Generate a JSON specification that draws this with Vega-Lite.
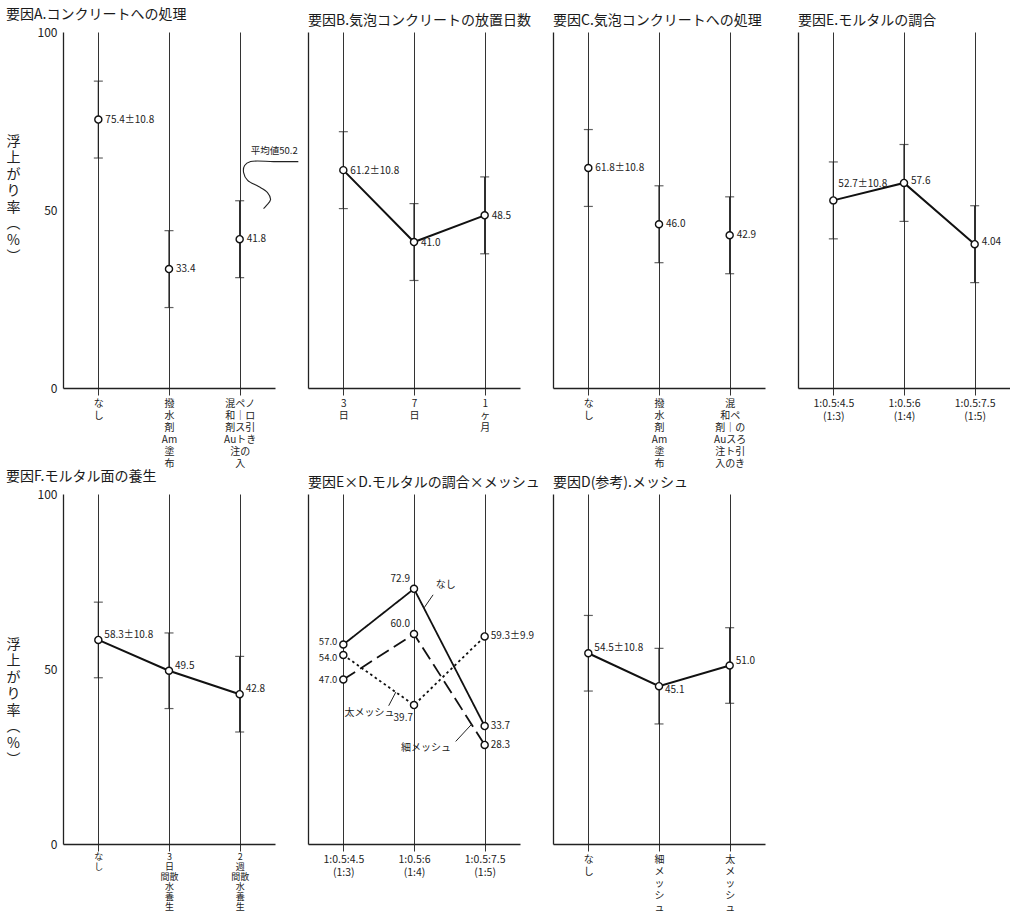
{
  "$schema": "https://vega.github.io/schema/vega-lite/v6.json",
  "background": "white",
  "padding": {"left": 6, "top": 8, "right": 0, "bottom": 0},
  "config": {
    "view": {"stroke": null},
    "font": "Noto Sans CJK JP",
    "title": {"anchor": "start", "fontSize": 14, "fontWeight": "normal", "color": "#1a1a1a", "offset": 4},
    "axis": {"domainColor": "#222", "domainWidth": 1.3, "labelColor": "#222", "titleColor": "#222"},
    "axisX": {"grid": true, "gridColor": "#333", "gridWidth": 1, "ticks": true, "tickSize": 7, "tickColor": "#333", "tickWidth": 1, "labelAngle": 0, "labelAlign": "center", "labelBaseline": "top", "labelFontSize": 10, "labelLineHeight": 12, "labelPadding": 3, "labelOverlap": false, "labelFlush": false},
    "axisY": {"grid": false, "ticks": false, "labelFontSize": 12, "labelPadding": 6}
  },
  "datasets": {
    "A": [{"i": 0, "v": 75.4, "e": 10.8, "t": "75.4±10.8"}, {"i": 1, "v": 33.4, "e": 10.8, "t": "33.4"}, {"i": 2, "v": 41.8, "e": 10.8, "t": "41.8"}],
    "B": [{"i": 0, "v": 61.2, "e": 10.8, "t": "61.2±10.8"}, {"i": 1, "v": 41.0, "e": 10.8, "t": "41.0"}, {"i": 2, "v": 48.5, "e": 10.8, "t": "48.5"}],
    "C": [{"i": 0, "v": 61.8, "e": 10.8, "t": "61.8±10.8"}, {"i": 1, "v": 46.0, "e": 10.8, "t": "46.0"}, {"i": 2, "v": 42.9, "e": 10.8, "t": "42.9"}],
    "E": [{"i": 0, "v": 52.7, "e": 10.8, "t": "52.7±10.8"}, {"i": 1, "v": 57.6, "e": 10.8, "t": "57.6"}, {"i": 2, "v": 40.4, "e": 10.8, "t": "4.04"}],
    "F": [{"i": 0, "v": 58.3, "e": 10.8, "t": "58.3±10.8"}, {"i": 1, "v": 49.5, "e": 10.8, "t": "49.5"}, {"i": 2, "v": 42.8, "e": 10.8, "t": "42.8"}],
    "D": [{"i": 0, "v": 54.5, "e": 10.8, "t": "54.5±10.8"}, {"i": 1, "v": 45.1, "e": 10.8, "t": "45.1"}, {"i": 2, "v": 51.0, "e": 10.8, "t": "51.0"}],
    "X": [
      {"s": "なし", "i": 0, "v": 57.0, "t": "57.0"}, {"s": "なし", "i": 1, "v": 72.9, "t": "72.9"}, {"s": "なし", "i": 2, "v": 33.7, "t": "33.7"},
      {"s": "細メッシュ", "i": 0, "v": 47.0, "t": "47.0"}, {"s": "細メッシュ", "i": 1, "v": 60.0, "t": "60.0"}, {"s": "細メッシュ", "i": 2, "v": 28.3, "t": "28.3"},
      {"s": "太メッシュ", "i": 0, "v": 54.0, "t": "54.0"}, {"s": "太メッシュ", "i": 1, "v": 39.7, "t": "39.7"}, {"s": "太メッシュ", "i": 2, "v": 59.3, "t": "59.3±9.9"}
    ],
    "curveA": [
      {"o": 1, "x": 2.83, "y": 63.6}, {"o": 2, "x": 2.48, "y": 63.6}, {"o": 3, "x": 2.155, "y": 63.6}, {"o": 4, "x": 2.07, "y": 62.5},
      {"o": 5, "x": 2.056, "y": 60.5}, {"o": 6, "x": 2.113, "y": 58.3}, {"o": 7, "x": 2.268, "y": 56.6}, {"o": 8, "x": 2.394, "y": 54.9},
      {"o": 9, "x": 2.437, "y": 52.9}, {"o": 10, "x": 2.38, "y": 51.3}, {"o": 11, "x": 2.338, "y": 50.4}
    ],
    "noteA": [{"x": 2.49, "y": 66.6, "t": "平均値50.2"}],
    "leadX": [
      {"x": 1.27, "y": 71.2, "x2": 1.14, "y2": 67.4},
      {"x": 0.642, "y": 39.5, "x2": 0.743, "y2": 43.4},
      {"x": 1.59, "y": 29.3, "x2": 1.815, "y2": 34.2}
    ],
    "noteX": [{"x": 1.45, "y": 74.1, "t": "なし"}, {"x": 0.37, "y": 37.5, "t": "太メッシュ"}, {"x": 1.17, "y": 27.5, "t": "細メッシュ"}]
  },
  "columns": 4,
  "spacing": {"row": 106, "column": 33},
  "bounds": "flush",
  "concat": [
    {
      "width": 212, "height": 356,
      "title": "要因A.コンクリートへの処理",
      "data": {"name": "A"},
      "encoding": {
        "x": {"field": "i", "type": "quantitative", "scale": {"domain": [-0.5, 2.5], "nice": false, "zero": false}, "axis": {"title": null, "values": [0, 1, 2], "labelExpr": "[['な','し'],['撥','水','剤','Am','塗','布'],['混ペノ','和｜ロ','剤ス引','Auトき','注の　','入　　']][datum.value]"}},
        "y": {"field": "v", "type": "quantitative", "scale": {"domain": [0, 100], "nice": false}, "axis": {"values": [0, 50, 100], "title": ["浮", "上", "が", "り", "率", "︵", "%", "︶"], "titleAngle": 0, "titleFontSize": 14, "titleLineHeight": 16.5, "titleFontWeight": "normal", "titleAlign": "center", "titleBaseline": "middle", "titleX": -50, "titleY": 109}}
      },
      "layer": [
        {"transform": [{"aggregate": [{"op": "count", "as": "n"}]}], "mark": {"type": "rule", "color": "#222", "strokeWidth": 1.3}, "encoding": {"x": {"datum": -0.5}, "x2": {"datum": 2.5}, "y": {"datum": 100}}},
        {"transform": [{"aggregate": [{"op": "count", "as": "n"}]}], "mark": {"type": "rule", "color": "#666", "strokeWidth": 1.6, "strokeDash": [6, 4]}, "encoding": {"x": {"datum": -0.5}, "x2": {"datum": 2.5}, "y": {"datum": 50.2}}},
        {"mark": {"type": "errorbar", "ticks": {"size": 9, "color": "#222"}, "color": "#222", "thickness": 1.2}, "encoding": {"yError": {"field": "e"}}},
        {"mark": {"type": "point", "shape": "circle", "filled": true, "fill": "white", "stroke": "#111", "strokeWidth": 1.4, "size": 50, "opacity": 1}},
        {"mark": {"type": "text", "align": "left", "baseline": "middle", "dx": 7, "fontSize": 10, "color": "#222"}, "encoding": {"text": {"field": "t"}}},
        {"data": {"name": "curveA"}, "mark": {"type": "line", "interpolate": "catmull-rom", "color": "#222", "strokeWidth": 1.1}, "encoding": {"x": {"field": "x", "type": "quantitative"}, "y": {"field": "y", "type": "quantitative"}, "order": {"field": "o"}}},
        {"data": {"name": "noteA"}, "mark": {"type": "text", "fontSize": 9.5, "align": "center", "baseline": "middle", "color": "#222"}, "encoding": {"x": {"field": "x", "type": "quantitative"}, "y": {"field": "y", "type": "quantitative"}, "text": {"field": "t"}}}
      ]
    },
    {
      "width": 212, "height": 356,
      "title": "要因B.気泡コンクリートの放置日数",
      "data": {"name": "B"},
      "encoding": {
        "x": {"field": "i", "type": "quantitative", "scale": {"domain": [-0.5, 2.5], "nice": false, "zero": false}, "axis": {"title": null, "values": [0, 1, 2], "labelExpr": "[['3','日'],['7','日'],['1','ヶ','月']][datum.value]"}},
        "y": {"field": "v", "type": "quantitative", "scale": {"domain": [0, 100], "nice": false}, "axis": {"values": [0, 50, 100], "labels": false, "title": null}}
      },
      "layer": [
        {"transform": [{"aggregate": [{"op": "count", "as": "n"}]}], "mark": {"type": "rule", "color": "#222", "strokeWidth": 1.3}, "encoding": {"x": {"datum": -0.5}, "x2": {"datum": 2.5}, "y": {"datum": 100}}},
        {"transform": [{"aggregate": [{"op": "count", "as": "n"}]}], "mark": {"type": "rule", "color": "#333", "strokeWidth": 1}, "encoding": {"x": {"datum": -0.5}, "x2": {"datum": 2.5}, "y": {"datum": 50}}},
        {"mark": {"type": "errorbar", "ticks": {"size": 9, "color": "#222"}, "color": "#222", "thickness": 1.2}, "encoding": {"yError": {"field": "e"}}},
        {"mark": {"type": "line", "color": "#111", "strokeWidth": 2}},
        {"mark": {"type": "point", "shape": "circle", "filled": true, "fill": "white", "stroke": "#111", "strokeWidth": 1.4, "size": 50, "opacity": 1}},
        {"mark": {"type": "text", "align": "left", "baseline": "middle", "dx": 7, "dy": 1, "fontSize": 10, "color": "#222"}, "encoding": {"text": {"field": "t"}}}
      ]
    },
    {
      "width": 212, "height": 356,
      "title": "要因C.気泡コンクリートへの処理",
      "data": {"name": "C"},
      "encoding": {
        "x": {"field": "i", "type": "quantitative", "scale": {"domain": [-0.5, 2.5], "nice": false, "zero": false}, "axis": {"title": null, "values": [0, 1, 2], "labelExpr": "[['な','し'],['撥','水','剤','Am','塗','布'],['混　　','和ペ　','剤｜の','Auスろ','注ト引','入のき']][datum.value]"}},
        "y": {"field": "v", "type": "quantitative", "scale": {"domain": [0, 100], "nice": false}, "axis": {"values": [0, 50, 100], "labels": false, "title": null}}
      },
      "layer": [
        {"transform": [{"aggregate": [{"op": "count", "as": "n"}]}], "mark": {"type": "rule", "color": "#222", "strokeWidth": 1.3}, "encoding": {"x": {"datum": -0.5}, "x2": {"datum": 2.5}, "y": {"datum": 100}}},
        {"transform": [{"aggregate": [{"op": "count", "as": "n"}]}], "mark": {"type": "rule", "color": "#333", "strokeWidth": 1}, "encoding": {"x": {"datum": -0.5}, "x2": {"datum": 2.5}, "y": {"datum": 50}}},
        {"mark": {"type": "errorbar", "ticks": {"size": 9, "color": "#222"}, "color": "#222", "thickness": 1.2}, "encoding": {"yError": {"field": "e"}}},
        {"mark": {"type": "point", "shape": "circle", "filled": true, "fill": "white", "stroke": "#111", "strokeWidth": 1.4, "size": 50, "opacity": 1}},
        {"mark": {"type": "text", "align": "left", "baseline": "middle", "dx": 7, "fontSize": 10, "color": "#222"}, "encoding": {"text": {"field": "t"}}}
      ]
    },
    {
      "width": 212, "height": 356,
      "title": "要因E.モルタルの調合",
      "data": {"name": "E"},
      "encoding": {
        "x": {"field": "i", "type": "quantitative", "scale": {"domain": [-0.5, 2.5], "nice": false, "zero": false}, "axis": {"title": null, "values": [0, 1, 2], "labelFontSize": 10.5, "labelLineHeight": 13, "labelExpr": "[['1:0.5:4.5','(1:3)'],['1:0.5:6','(1:4)'],['1:0.5:7.5','(1:5)']][datum.value]"}},
        "y": {"field": "v", "type": "quantitative", "scale": {"domain": [0, 100], "nice": false}, "axis": {"values": [0, 50, 100], "labels": false, "title": null}}
      },
      "layer": [
        {"transform": [{"aggregate": [{"op": "count", "as": "n"}]}], "mark": {"type": "rule", "color": "#222", "strokeWidth": 1.3}, "encoding": {"x": {"datum": -0.5}, "x2": {"datum": 2.5}, "y": {"datum": 100}}},
        {"transform": [{"aggregate": [{"op": "count", "as": "n"}]}], "mark": {"type": "rule", "color": "#333", "strokeWidth": 1}, "encoding": {"x": {"datum": -0.5}, "x2": {"datum": 2.5}, "y": {"datum": 50}}},
        {"mark": {"type": "errorbar", "ticks": {"size": 9, "color": "#222"}, "color": "#222", "thickness": 1.2}, "encoding": {"yError": {"field": "e"}}},
        {"mark": {"type": "line", "color": "#111", "strokeWidth": 2}},
        {"mark": {"type": "point", "shape": "circle", "filled": true, "fill": "white", "stroke": "#111", "strokeWidth": 1.4, "size": 50, "opacity": 1}},
        {"transform": [{"filter": "datum.i === 0"}], "mark": {"type": "text", "align": "left", "baseline": "middle", "dx": 5, "dy": -16, "fontSize": 10, "color": "#222"}, "encoding": {"text": {"field": "t"}}},
        {"transform": [{"filter": "datum.i > 0"}], "mark": {"type": "text", "align": "left", "baseline": "middle", "dx": 7, "dy": -2, "fontSize": 10, "color": "#222"}, "encoding": {"text": {"field": "t"}}}
      ]
    },
    {
      "width": 212, "height": 350,
      "title": "要因F.モルタル面の養生",
      "data": {"name": "F"},
      "encoding": {
        "x": {"field": "i", "type": "quantitative", "scale": {"domain": [-0.5, 2.5], "nice": false, "zero": false}, "axis": {"title": null, "values": [0, 1, 2], "labelFontSize": 9, "labelLineHeight": 10, "labelPadding": 1, "labelExpr": "[['な','し'],['3　','日　','間散','　水','　養','　生'],['2　','週　','間散','　水','　養','　生']][datum.value]"}},
        "y": {"field": "v", "type": "quantitative", "scale": {"domain": [0, 100], "nice": false}, "axis": {"values": [0, 50, 100], "title": ["浮", "上", "が", "り", "率", "︵", "%", "︶"], "titleAngle": 0, "titleFontSize": 14, "titleLineHeight": 16.5, "titleFontWeight": "normal", "titleAlign": "center", "titleBaseline": "middle", "titleX": -50, "titleY": 150}}
      },
      "layer": [
        {"transform": [{"aggregate": [{"op": "count", "as": "n"}]}], "mark": {"type": "rule", "color": "#222", "strokeWidth": 1.3}, "encoding": {"x": {"datum": -0.5}, "x2": {"datum": 2.5}, "y": {"datum": 100}}},
        {"transform": [{"aggregate": [{"op": "count", "as": "n"}]}], "mark": {"type": "rule", "color": "#333", "strokeWidth": 1}, "encoding": {"x": {"datum": -0.5}, "x2": {"datum": 2.5}, "y": {"datum": 50}}},
        {"mark": {"type": "errorbar", "ticks": {"size": 9, "color": "#222"}, "color": "#222", "thickness": 1.2}, "encoding": {"yError": {"field": "e"}}},
        {"mark": {"type": "line", "color": "#111", "strokeWidth": 2}},
        {"mark": {"type": "point", "shape": "circle", "filled": true, "fill": "white", "stroke": "#111", "strokeWidth": 1.4, "size": 50, "opacity": 1}},
        {"mark": {"type": "text", "align": "left", "baseline": "middle", "dx": 6, "dy": -5, "fontSize": 10, "color": "#222"}, "encoding": {"text": {"field": "t"}}}
      ]
    },
    {
      "width": 212, "height": 350,
      "title": "要因E×D.モルタルの調合×メッシュ",
      "data": {"name": "X"},
      "encoding": {
        "x": {"field": "i", "type": "quantitative", "scale": {"domain": [-0.5, 2.5], "nice": false, "zero": false}, "axis": {"title": null, "values": [0, 1, 2], "labelFontSize": 10.5, "labelLineHeight": 13, "labelExpr": "[['1:0.5:4.5','(1:3)'],['1:0.5:6','(1:4)'],['1:0.5:7.5','(1:5)']][datum.value]"}},
        "y": {"field": "v", "type": "quantitative", "scale": {"domain": [0, 100], "nice": false}, "axis": {"values": [0, 50, 100], "labels": false, "title": null}}
      },
      "layer": [
        {"transform": [{"aggregate": [{"op": "count", "as": "n"}]}], "mark": {"type": "rule", "color": "#222", "strokeWidth": 1.3}, "encoding": {"x": {"datum": -0.5}, "x2": {"datum": 2.5}, "y": {"datum": 100}}},
        {"transform": [{"aggregate": [{"op": "count", "as": "n"}]}], "mark": {"type": "rule", "color": "#333", "strokeWidth": 1}, "encoding": {"x": {"datum": -0.5}, "x2": {"datum": 2.5}, "y": {"datum": 50}}},
        {"mark": {"type": "line", "color": "#111", "strokeWidth": 1.8}, "encoding": {"strokeDash": {"field": "s", "type": "nominal", "scale": {"domain": ["なし", "細メッシュ", "太メッシュ"], "range": [[1, 0], [14, 6], [2.5, 3]]}, "legend": null}}},
        {"mark": {"type": "point", "shape": "circle", "filled": true, "fill": "white", "stroke": "#111", "strokeWidth": 1.4, "size": 50, "opacity": 1}},
        {"transform": [{"filter": "datum.i === 0 && datum.s === 'なし'"}], "mark": {"type": "text", "align": "right", "baseline": "middle", "dx": -6, "dy": -3, "fontSize": 9.5, "color": "#222"}, "encoding": {"text": {"field": "t"}}},
        {"transform": [{"filter": "datum.i === 0 && datum.s === '太メッシュ'"}], "mark": {"type": "text", "align": "right", "baseline": "middle", "dx": -6, "dy": 3, "fontSize": 9.5, "color": "#222"}, "encoding": {"text": {"field": "t"}}},
        {"transform": [{"filter": "datum.i === 0 && datum.s === '細メッシュ'"}], "mark": {"type": "text", "align": "right", "baseline": "middle", "dx": -6, "fontSize": 9.5, "color": "#222"}, "encoding": {"text": {"field": "t"}}},
        {"transform": [{"filter": "datum.i === 1 && datum.s !== '太メッシュ'"}], "mark": {"type": "text", "align": "right", "baseline": "middle", "dx": -4, "dy": -10, "fontSize": 10, "color": "#222"}, "encoding": {"text": {"field": "t"}}},
        {"transform": [{"filter": "datum.i === 1 && datum.s === '太メッシュ'"}], "mark": {"type": "text", "align": "right", "baseline": "middle", "dx": -1, "dy": 13, "fontSize": 10, "color": "#222"}, "encoding": {"text": {"field": "t"}}},
        {"transform": [{"filter": "datum.i === 2"}], "mark": {"type": "text", "align": "left", "baseline": "middle", "dx": 6, "fontSize": 10, "color": "#222"}, "encoding": {"text": {"field": "t"}}},
        {"data": {"name": "leadX"}, "mark": {"type": "rule", "color": "#222", "strokeWidth": 1}, "encoding": {"x": {"field": "x", "type": "quantitative"}, "y": {"field": "y", "type": "quantitative"}, "x2": {"field": "x2"}, "y2": {"field": "y2"}}},
        {"data": {"name": "noteX"}, "mark": {"type": "text", "fontSize": 10, "align": "center", "baseline": "middle", "color": "#222"}, "encoding": {"x": {"field": "x", "type": "quantitative"}, "y": {"field": "y", "type": "quantitative"}, "text": {"field": "t"}}}
      ]
    },
    {
      "width": 212, "height": 350,
      "title": "要因D(参考).メッシュ",
      "data": {"name": "D"},
      "encoding": {
        "x": {"field": "i", "type": "quantitative", "scale": {"domain": [-0.5, 2.5], "nice": false, "zero": false}, "axis": {"title": null, "values": [0, 1, 2], "labelExpr": "[['な','し'],['細','メ','ッ','シ','ュ'],['太','メ','ッ','シ','ュ']][datum.value]"}},
        "y": {"field": "v", "type": "quantitative", "scale": {"domain": [0, 100], "nice": false}, "axis": {"values": [0, 50, 100], "labels": false, "title": null}}
      },
      "layer": [
        {"transform": [{"aggregate": [{"op": "count", "as": "n"}]}], "mark": {"type": "rule", "color": "#222", "strokeWidth": 1.3}, "encoding": {"x": {"datum": -0.5}, "x2": {"datum": 2.5}, "y": {"datum": 100}}},
        {"transform": [{"aggregate": [{"op": "count", "as": "n"}]}], "mark": {"type": "rule", "color": "#333", "strokeWidth": 1}, "encoding": {"x": {"datum": -0.5}, "x2": {"datum": 2.5}, "y": {"datum": 50}}},
        {"mark": {"type": "errorbar", "ticks": {"size": 9, "color": "#222"}, "color": "#222", "thickness": 1.2}, "encoding": {"yError": {"field": "e"}}},
        {"mark": {"type": "line", "color": "#111", "strokeWidth": 2}},
        {"mark": {"type": "point", "shape": "circle", "filled": true, "fill": "white", "stroke": "#111", "strokeWidth": 1.4, "size": 50, "opacity": 1}},
        {"transform": [{"filter": "datum.i !== 1"}], "mark": {"type": "text", "align": "left", "baseline": "middle", "dx": 6, "dy": -5, "fontSize": 10, "color": "#222"}, "encoding": {"text": {"field": "t"}}},
        {"transform": [{"filter": "datum.i === 1"}], "mark": {"type": "text", "align": "left", "baseline": "middle", "dx": 6, "dy": 4, "fontSize": 10, "color": "#222"}, "encoding": {"text": {"field": "t"}}}
      ]
    }
  ]
}
